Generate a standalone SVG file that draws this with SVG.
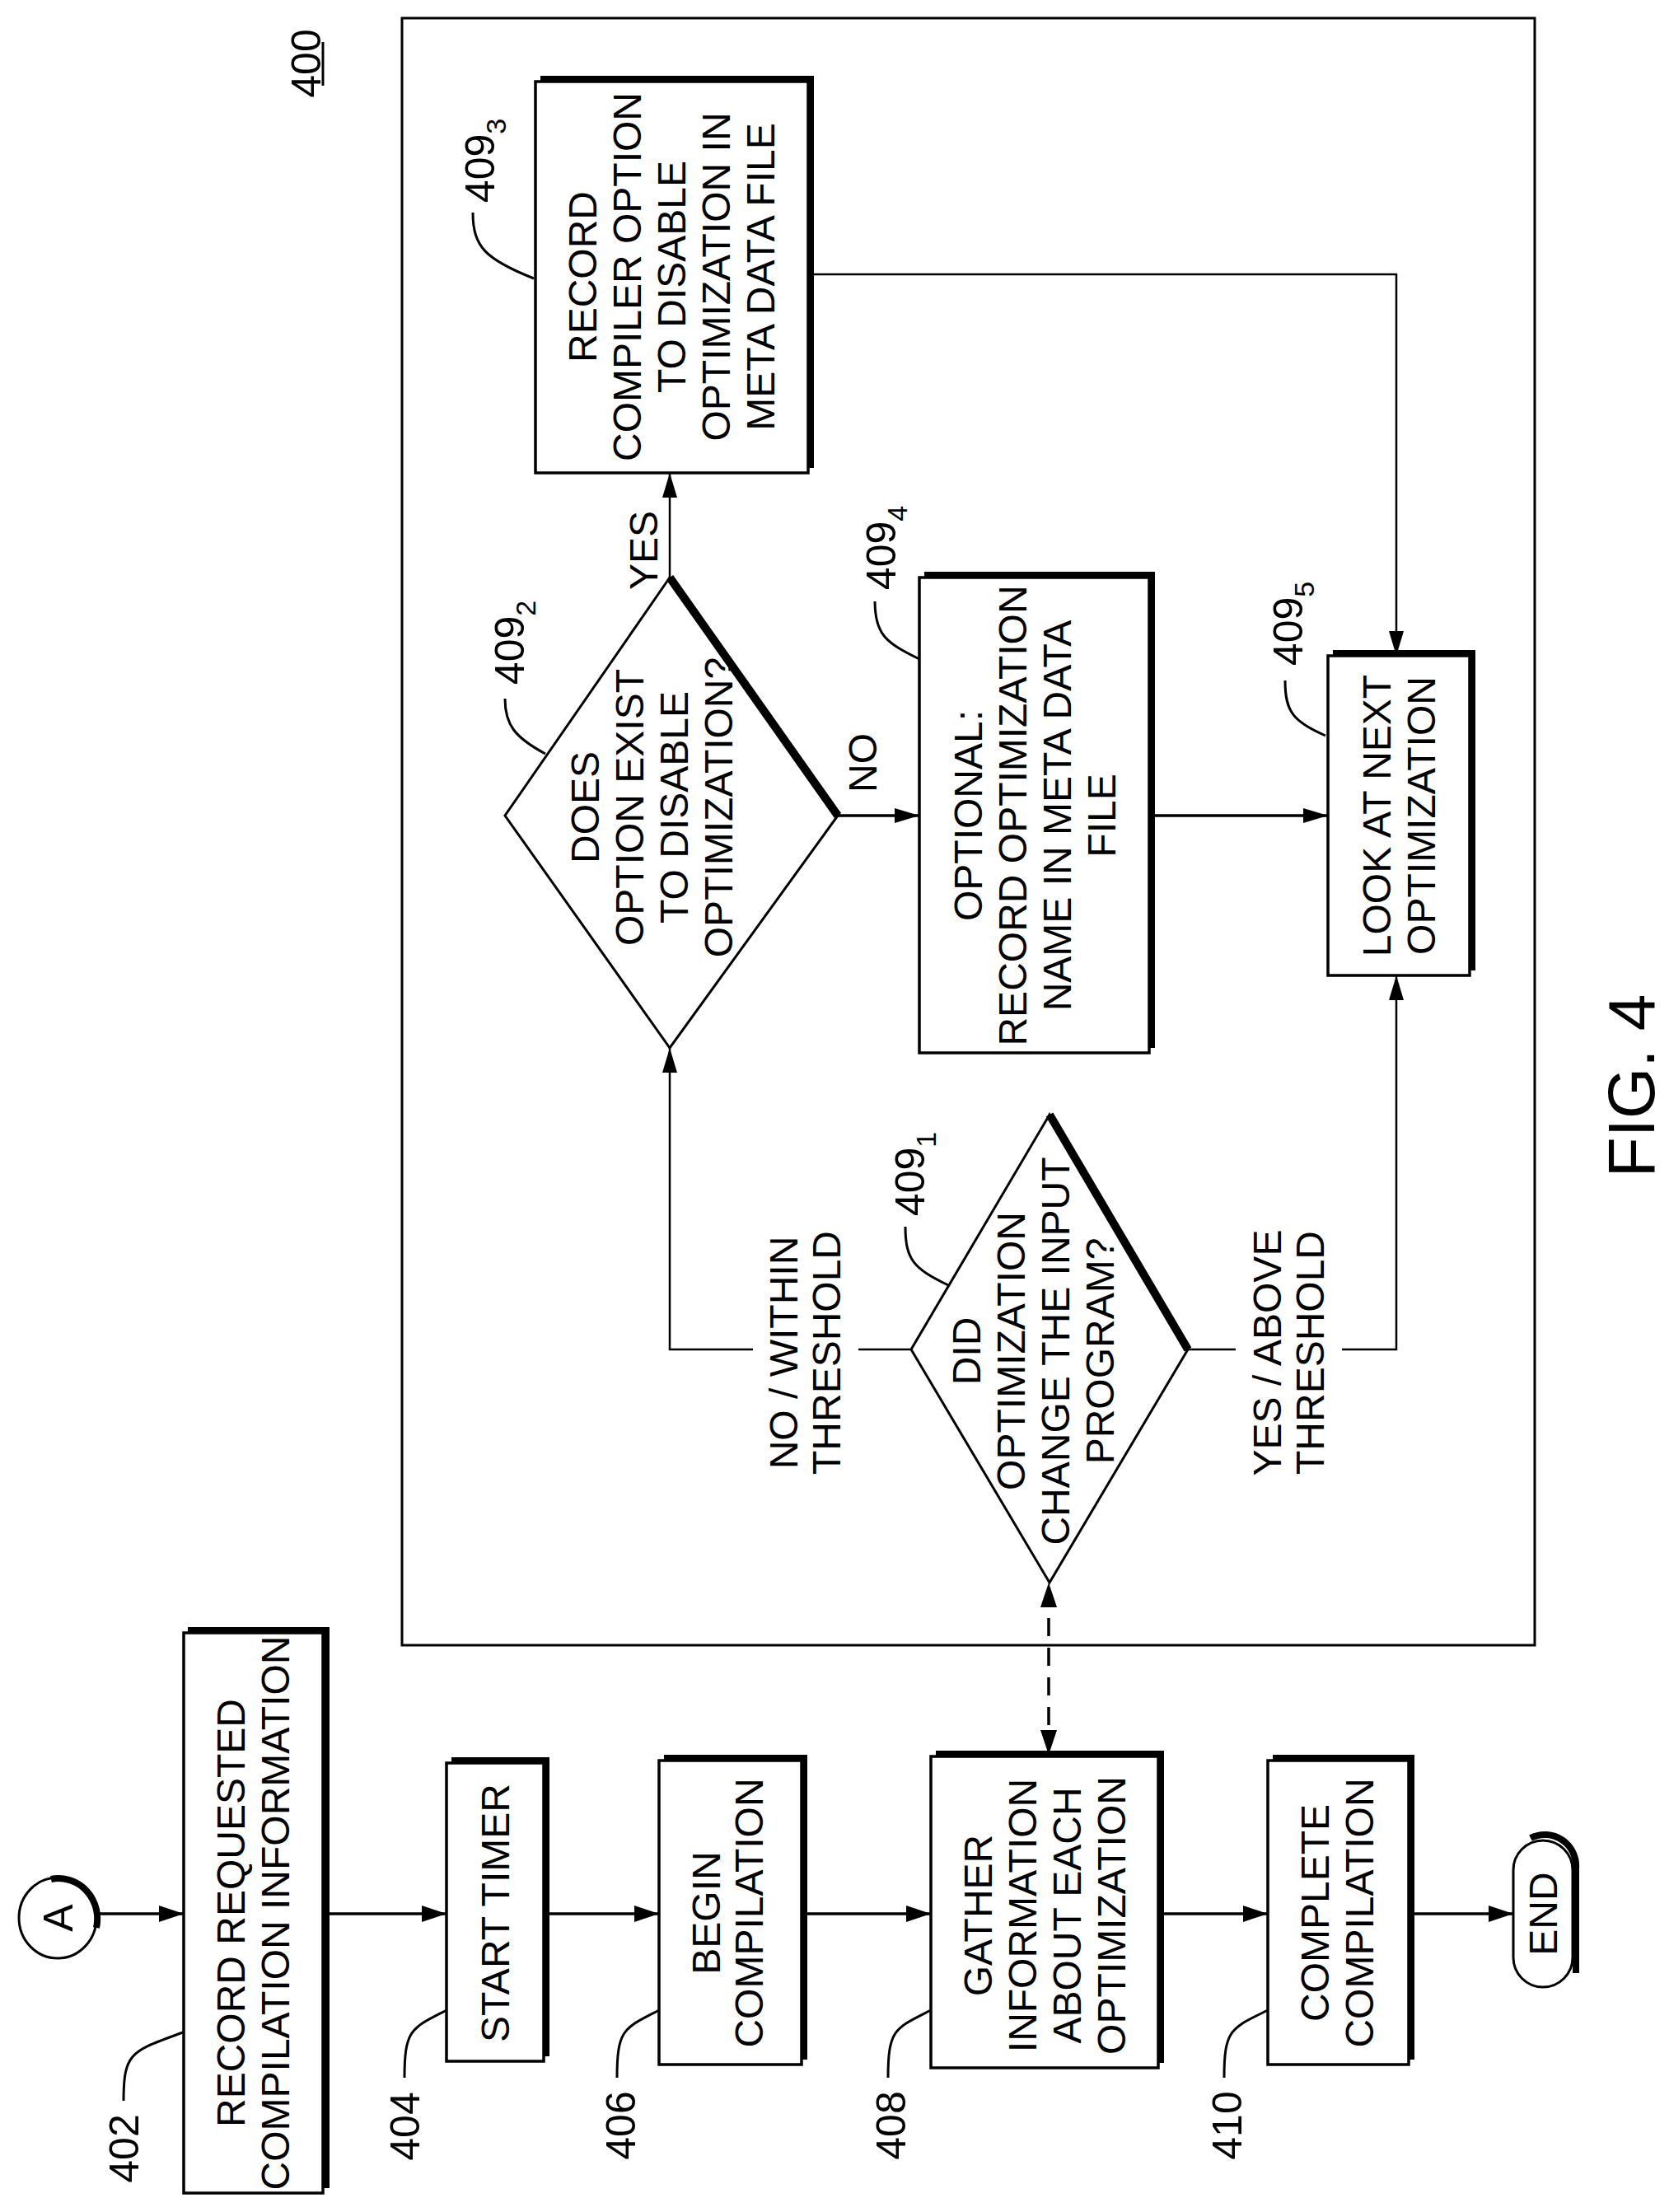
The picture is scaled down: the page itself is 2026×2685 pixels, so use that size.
<svg xmlns="http://www.w3.org/2000/svg" width="2026" height="2685" viewBox="0 0 2026 2685">
<style>
text{font-family:"Liberation Sans",Arial,sans-serif;fill:#000;text-anchor:middle}
.t{font-size:48px}
.l{font-size:50px}
.s{font-size:34px}
.box{fill:#fff;stroke:#000;stroke-width:3.5}
.sh{fill:none;stroke:#000;stroke-width:8}
.c{fill:none;stroke:#000;stroke-width:3.5}
.ci{fill:none;stroke:#000;stroke-width:2.5}
.ld{fill:none;stroke:#000;stroke-width:3}
</style>
<defs>
<marker id="ah" markerUnits="userSpaceOnUse" markerWidth="32" markerHeight="20" refX="30" refY="10" orient="auto-start-reverse"><path d="M0,0 L30,10 L0,20 z" fill="#000"/></marker>
<marker id="ah2" markerUnits="userSpaceOnUse" markerWidth="32" markerHeight="18" refX="30" refY="9" orient="auto-start-reverse"><path d="M0,0 L30,9 L0,18 z" fill="#000"/></marker>
</defs>
<rect id="frame" x="488" y="22" width="1375" height="1975" fill="none" stroke="#000" stroke-width="3"/>
<g id="ref400"><text class="l" transform="translate(371,77) rotate(-90)" y="18">400</text><line x1="392" y1="51" x2="392" y2="104" stroke="#000" stroke-width="3"/></g>
<g id="connectors">
<path class="c" d="M118,2323 H223" marker-end="url(#ah)"/>
<path class="c" d="M392,2323 H542" marker-end="url(#ah)"/>
<path class="c" d="M660,2323 H800" marker-end="url(#ah)"/>
<path class="c" d="M973,2323 H1130" marker-end="url(#ah)"/>
<path class="c" d="M1406,2323 H1539" marker-end="url(#ah)"/>
<path class="c" d="M1710,2323 H1837" marker-end="url(#ah)"/>
<path class="c" d="M1273,2130 V1921" stroke-dasharray="22,14" marker-start="url(#ah)" marker-end="url(#ah)"/>
<path class="ci" d="M1106,1638 H1042"/>
<path class="ci" d="M914,1638 H813 V1272" marker-end="url(#ah2)"/>
<path class="ci" d="M1442,1638 H1500"/>
<path class="ci" d="M1629,1638 H1695 V1184" marker-end="url(#ah2)"/>
<path class="ci" d="M813,701 V574" marker-end="url(#ah2)"/>
<path class="c" d="M1017,990 H1116" marker-end="url(#ah2)"/>
<path class="c" d="M1395,990 H1612" marker-end="url(#ah2)"/>
<path class="ci" d="M981,333 H1695 V796" marker-end="url(#ah2)"/>
</g>
<g id="lbl-conn">
<text class="t" transform="translate(978,1642) rotate(-90)" y="-10">NO / WITHIN<tspan x="0" dy="52">THRESHOLD</tspan></text>
<text class="t" transform="translate(1565,1642) rotate(-90)" y="-10">YES / ABOVE<tspan x="0" dy="52">THRESHOLD</tspan></text>
<text class="t" transform="translate(781,668) rotate(-90)" y="17">YES</text>
<text class="t" transform="translate(1047,926) rotate(-90)" y="17">NO</text>
</g>
<g id="nA"><ellipse cx="70" cy="2328" rx="47" ry="49" fill="#fff" stroke="#000" stroke-width="3"/><path d="M62,2281 A47,49 0 0 1 117,2340" class="sh"/><text class="l" transform="translate(70,2328) rotate(-90)" y="18">A</text></g>
<g id="n402"><rect class="box" x="223" y="1982" width="169" height="680"/><path class="sh" d="M228,1979 H396 V2656"/><text class="t" transform="translate(307,2322) rotate(-90)" y="-10">RECORD REQUESTED<tspan x="0" dy="54">COMPILATION INFORMATION</tspan></text>
<path class="ld" d="M150,2550 C150,2490 160,2490 222,2467"/><text class="l" transform="translate(150,2608) rotate(-90)" y="18">402</text></g>
<g id="n404"><rect class="box" x="542" y="2140" width="118" height="362"/><path class="sh" d="M548,2137 H663 V2496"/><text class="t" transform="translate(601,2322) rotate(-90)" y="17">START TIMER</text>
<path class="ld" d="M491,2522 C491,2462 500,2462 542,2440"/><text class="l" transform="translate(491,2581) rotate(-90)" y="18">404</text></g>
<g id="n406"><rect class="box" x="800" y="2137" width="173" height="369"/><path class="sh" d="M806,2134 H976 V2500"/><text class="t" transform="translate(884,2322) rotate(-90)" y="-10">BEGIN<tspan x="0" dy="52">COMPILATION</tspan></text>
<path class="ld" d="M749,2522 C749,2462 758,2462 800,2440"/><text class="l" transform="translate(753,2580) rotate(-90)" y="18">406</text></g>
<g id="n408"><rect class="box" x="1130" y="2132" width="276" height="378"/><path class="sh" d="M1136,2129 H1409 V2504"/><text class="t" transform="translate(1268,2325) rotate(-90)" y="-64">GATHER<tspan x="0" dy="54">INFORMATION</tspan><tspan x="0" dy="54">ABOUT EACH</tspan><tspan x="0" dy="54">OPTIMIZATION</tspan></text>
<path class="ld" d="M1078,2522 C1078,2462 1087,2462 1130,2440"/><text class="l" transform="translate(1081,2580) rotate(-90)" y="18">408</text></g>
<g id="n410"><rect class="box" x="1539" y="2137" width="171" height="369"/><path class="sh" d="M1545,2134 H1713 V2500"/><text class="t" transform="translate(1623,2322) rotate(-90)" y="-10">COMPLETE<tspan x="0" dy="54">COMPILATION</tspan></text>
<path class="ld" d="M1486,2522 C1486,2462 1495,2462 1539,2440"/><text class="l" transform="translate(1489,2580) rotate(-90)" y="18">410</text></g>
<g id="nEND"><rect x="1837" y="2234" width="72" height="178" rx="36" fill="#fff" stroke="#000" stroke-width="3"/><path class="sh" d="M1858,2231 A38,38 0 0 1 1913,2268 V2395"/><text class="t" transform="translate(1873,2323) rotate(-90)" y="17">END</text></g>
<g id="n4091"><path d="M1274,1353 L1442,1638 L1274,1921 L1106,1638 Z" fill="#fff" stroke="#000" stroke-width="3"/><path d="M1274,1353 L1442,1638" stroke="#000" stroke-width="10"/><text class="t" transform="translate(1254,1640) rotate(-90)" y="-64">DID<tspan x="0" dy="54">OPTIMIZATION</tspan><tspan x="0" dy="54">CHANGE THE INPUT</tspan><tspan x="0" dy="54">PROGRAM?</tspan></text>
<path class="ld" d="M1099,1489 C1099,1530 1110,1540 1151,1560"/><text class="l" transform="translate(1104,1425) rotate(-90)" y="18">409<tspan class="s" dy="14">1</tspan></text></g>
<g id="n4092"><path d="M813,701 L1017,990 L813,1272 L613,990 Z" fill="#fff" stroke="#000" stroke-width="3"/><path d="M813,701 L1017,990" stroke="#000" stroke-width="10"/><text class="t" transform="translate(791,980) rotate(-90)" y="-64">DOES<tspan x="0" dy="54">OPTION EXIST</tspan><tspan x="0" dy="54">TO DISABLE</tspan><tspan x="0" dy="54">OPTIMIZATION?</tspan></text>
<path class="ld" d="M613,848 C613,880 625,895 662,915"/><text class="l" transform="translate(618,780) rotate(-90)" y="18">409<tspan class="s" dy="14">2</tspan></text></g>
<g id="n4093"><rect class="box" x="650" y="99" width="331" height="475"/><path class="sh" d="M656,96 H984 V568"/><text class="t" transform="translate(815,336) rotate(-90)" y="-91">RECORD<tspan x="0" dy="54">COMPILER OPTION</tspan><tspan x="0" dy="54">TO DISABLE</tspan><tspan x="0" dy="54">OPTIMIZATION IN</tspan><tspan x="0" dy="54">META DATA FILE</tspan></text>
<path class="ld" d="M574,258 C574,300 590,315 648,338"/><text class="l" transform="translate(582,195) rotate(-90)" y="18">409<tspan class="s" dy="14">3</tspan></text></g>
<g id="n4094"><rect class="box" x="1116" y="701" width="279" height="577"/><path class="sh" d="M1122,698 H1398 V1272"/><text class="t" transform="translate(1256,990) rotate(-90)" y="-64">OPTIONAL:<tspan x="0" dy="54">RECORD OPTIMIZATION</tspan><tspan x="0" dy="54">NAME IN META DATA</tspan><tspan x="0" dy="54">FILE</tspan></text>
<path class="ld" d="M1062,730 C1062,770 1075,780 1116,800"/><text class="l" transform="translate(1069,665) rotate(-90)" y="18">409<tspan class="s" dy="14">4</tspan></text></g>
<g id="n4095"><rect class="box" x="1612" y="796" width="172" height="388"/><path class="sh" d="M1618,793 H1787 V1178"/><text class="t" transform="translate(1698,990) rotate(-90)" y="-10">LOOK AT NEXT<tspan x="0" dy="54">OPTIMIZATION</tspan></text>
<path class="ld" d="M1560,826 C1560,865 1570,875 1609,893"/><text class="l" transform="translate(1563,757) rotate(-90)" y="18">409<tspan class="s" dy="14">5</tspan></text></g>
<text id="fig" transform="translate(1979,1318) rotate(-90)" y="29" style="font-size:80px">FIG. 4</text>
</svg>
